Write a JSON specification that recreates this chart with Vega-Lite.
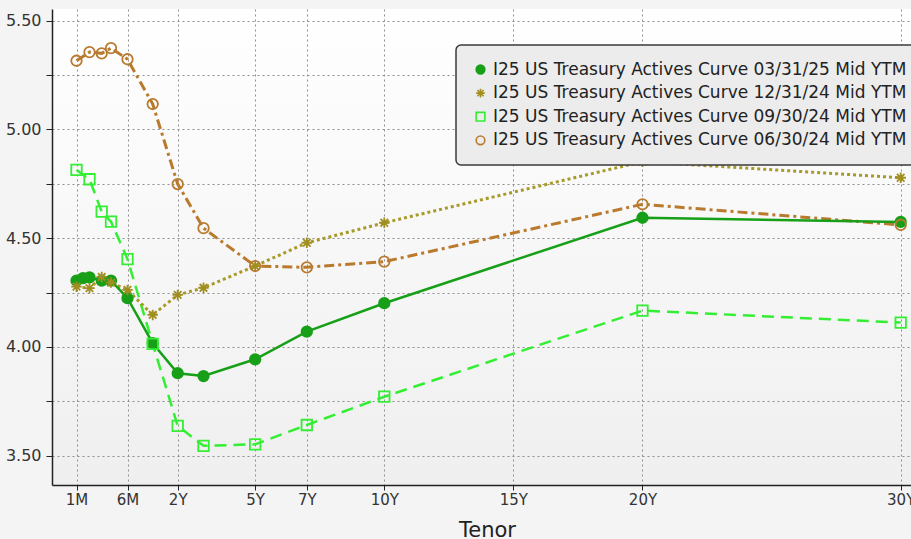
{
  "$schema": "https://vega.github.io/schema/vega-lite/v6.json",
  "autosize": "none",
  "width": 859,
  "height": 476,
  "padding": {"left": 52, "top": 9, "right": 0, "bottom": 54},
  "background": "#f4f4f4",
  "config": {
    "font": "DejaVu Sans",
    "view": {"stroke": null, "fill": {"gradient": "linear", "x1": 0, "y1": 0, "x2": 0, "y2": 1, "stops": [{"offset": 0, "color": "#ffffff"}, {"offset": 1, "color": "#efefef"}]}},
    "axis": {"domainColor": "#222", "domainWidth": 1.5, "tickColor": "#222", "gridColor": "#8f8f8f", "gridDash": [2, 3], "gridWidth": 1, "labelColor": "#333", "titleColor": "#222", "titleFontWeight": "normal"},
    "legend": {"labelLimit": 1000, "orient": "none", "legendX": 404, "legendY": 36, "fillColor": "#ececec", "strokeColor": "#3a3a3a", "strokeWidth": 1.5, "cornerRadius": 5, "padding": 16, "labelFontSize": 17, "labelColor": "#222", "labelOffset": 4, "symbolSize": 75, "symbolStrokeWidth": 1.6, "rowPadding": 5.6, "symbolType": "circle"}
  },
  "data": {"values": [
    {"curve": "I25 US Treasury Actives Curve 03/31/25 Mid YTM", "tenor": 0.08333, "ytm": 4.305},
    {"curve": "I25 US Treasury Actives Curve 03/31/25 Mid YTM", "tenor": 0.125, "ytm": 4.316},
    {"curve": "I25 US Treasury Actives Curve 03/31/25 Mid YTM", "tenor": 0.16667, "ytm": 4.32},
    {"curve": "I25 US Treasury Actives Curve 03/31/25 Mid YTM", "tenor": 0.25, "ytm": 4.305},
    {"curve": "I25 US Treasury Actives Curve 03/31/25 Mid YTM", "tenor": 0.33333, "ytm": 4.305},
    {"curve": "I25 US Treasury Actives Curve 03/31/25 Mid YTM", "tenor": 0.5, "ytm": 4.224},
    {"curve": "I25 US Treasury Actives Curve 03/31/25 Mid YTM", "tenor": 1, "ytm": 4.017},
    {"curve": "I25 US Treasury Actives Curve 03/31/25 Mid YTM", "tenor": 2, "ytm": 3.879},
    {"curve": "I25 US Treasury Actives Curve 03/31/25 Mid YTM", "tenor": 3, "ytm": 3.866},
    {"curve": "I25 US Treasury Actives Curve 03/31/25 Mid YTM", "tenor": 5, "ytm": 3.943},
    {"curve": "I25 US Treasury Actives Curve 03/31/25 Mid YTM", "tenor": 7, "ytm": 4.07},
    {"curve": "I25 US Treasury Actives Curve 03/31/25 Mid YTM", "tenor": 10, "ytm": 4.201},
    {"curve": "I25 US Treasury Actives Curve 03/31/25 Mid YTM", "tenor": 20, "ytm": 4.594},
    {"curve": "I25 US Treasury Actives Curve 03/31/25 Mid YTM", "tenor": 30, "ytm": 4.575},
    {"curve": "I25 US Treasury Actives Curve 12/31/24 Mid YTM", "tenor": 0.08333, "ytm": 4.277},
    {"curve": "I25 US Treasury Actives Curve 12/31/24 Mid YTM", "tenor": 0.16667, "ytm": 4.27},
    {"curve": "I25 US Treasury Actives Curve 12/31/24 Mid YTM", "tenor": 0.25, "ytm": 4.322},
    {"curve": "I25 US Treasury Actives Curve 12/31/24 Mid YTM", "tenor": 0.33333, "ytm": 4.296},
    {"curve": "I25 US Treasury Actives Curve 12/31/24 Mid YTM", "tenor": 0.5, "ytm": 4.262},
    {"curve": "I25 US Treasury Actives Curve 12/31/24 Mid YTM", "tenor": 1, "ytm": 4.147},
    {"curve": "I25 US Treasury Actives Curve 12/31/24 Mid YTM", "tenor": 2, "ytm": 4.239},
    {"curve": "I25 US Treasury Actives Curve 12/31/24 Mid YTM", "tenor": 3, "ytm": 4.272},
    {"curve": "I25 US Treasury Actives Curve 12/31/24 Mid YTM", "tenor": 5, "ytm": 4.372},
    {"curve": "I25 US Treasury Actives Curve 12/31/24 Mid YTM", "tenor": 7, "ytm": 4.479},
    {"curve": "I25 US Treasury Actives Curve 12/31/24 Mid YTM", "tenor": 10, "ytm": 4.571},
    {"curve": "I25 US Treasury Actives Curve 12/31/24 Mid YTM", "tenor": 20, "ytm": 4.852},
    {"curve": "I25 US Treasury Actives Curve 12/31/24 Mid YTM", "tenor": 30, "ytm": 4.778},
    {"curve": "I25 US Treasury Actives Curve 09/30/24 Mid YTM", "tenor": 0.08333, "ytm": 4.814},
    {"curve": "I25 US Treasury Actives Curve 09/30/24 Mid YTM", "tenor": 0.16667, "ytm": 4.771},
    {"curve": "I25 US Treasury Actives Curve 09/30/24 Mid YTM", "tenor": 0.25, "ytm": 4.622},
    {"curve": "I25 US Treasury Actives Curve 09/30/24 Mid YTM", "tenor": 0.33333, "ytm": 4.576},
    {"curve": "I25 US Treasury Actives Curve 09/30/24 Mid YTM", "tenor": 0.5, "ytm": 4.404},
    {"curve": "I25 US Treasury Actives Curve 09/30/24 Mid YTM", "tenor": 1, "ytm": 4.014},
    {"curve": "I25 US Treasury Actives Curve 09/30/24 Mid YTM", "tenor": 2, "ytm": 3.637},
    {"curve": "I25 US Treasury Actives Curve 09/30/24 Mid YTM", "tenor": 3, "ytm": 3.545},
    {"curve": "I25 US Treasury Actives Curve 09/30/24 Mid YTM", "tenor": 5, "ytm": 3.552},
    {"curve": "I25 US Treasury Actives Curve 09/30/24 Mid YTM", "tenor": 7, "ytm": 3.641},
    {"curve": "I25 US Treasury Actives Curve 09/30/24 Mid YTM", "tenor": 10, "ytm": 3.771},
    {"curve": "I25 US Treasury Actives Curve 09/30/24 Mid YTM", "tenor": 20, "ytm": 4.167},
    {"curve": "I25 US Treasury Actives Curve 09/30/24 Mid YTM", "tenor": 30, "ytm": 4.112},
    {"curve": "I25 US Treasury Actives Curve 06/30/24 Mid YTM", "tenor": 0.08333, "ytm": 5.316},
    {"curve": "I25 US Treasury Actives Curve 06/30/24 Mid YTM", "tenor": 0.16667, "ytm": 5.356},
    {"curve": "I25 US Treasury Actives Curve 06/30/24 Mid YTM", "tenor": 0.25, "ytm": 5.35},
    {"curve": "I25 US Treasury Actives Curve 06/30/24 Mid YTM", "tenor": 0.33333, "ytm": 5.374},
    {"curve": "I25 US Treasury Actives Curve 06/30/24 Mid YTM", "tenor": 0.5, "ytm": 5.323},
    {"curve": "I25 US Treasury Actives Curve 06/30/24 Mid YTM", "tenor": 1, "ytm": 5.117},
    {"curve": "I25 US Treasury Actives Curve 06/30/24 Mid YTM", "tenor": 2, "ytm": 4.749},
    {"curve": "I25 US Treasury Actives Curve 06/30/24 Mid YTM", "tenor": 3, "ytm": 4.546},
    {"curve": "I25 US Treasury Actives Curve 06/30/24 Mid YTM", "tenor": 5, "ytm": 4.372},
    {"curve": "I25 US Treasury Actives Curve 06/30/24 Mid YTM", "tenor": 7, "ytm": 4.366},
    {"curve": "I25 US Treasury Actives Curve 06/30/24 Mid YTM", "tenor": 10, "ytm": 4.392},
    {"curve": "I25 US Treasury Actives Curve 06/30/24 Mid YTM", "tenor": 20, "ytm": 4.656},
    {"curve": "I25 US Treasury Actives Curve 06/30/24 Mid YTM", "tenor": 30, "ytm": 4.561}
  ]},
  "encoding": {
    "x": {
      "field": "tenor", "type": "quantitative",
      "scale": {"domain": [0, 0.08333, 0.16667, 0.25, 0.33333, 0.5, 1, 2, 30, 30.4], "range": [0, 24.5, 37.5, 49.7, 59, 75.5, 100.7, 125.7, 848.7, 859], "nice": false, "zero": false},
      "axis": {"title": "Tenor", "values": [0.08333, 0.5, 2, 5, 7, 10, 15, 20, 30], "labelExpr": "datum.value < 0.1 ? '1M' : datum.value < 1 ? '6M' : datum.value + 'Y'", "labelFontSize": 15, "labelPadding": 2, "tickSize": 5, "titleFontSize": 21, "titlePadding": 12, "titleX": 435, "labelFlush": false, "labelOverlap": false}
    },
    "y": {
      "field": "ytm", "type": "quantitative",
      "scale": {"domain": [3.365, 5.554], "nice": false, "zero": false},
      "axis": {"title": null, "values": [3.5, 3.75, 4, 4.25, 4.5, 4.75, 5, 5.25, 5.5], "labelExpr": "(round(datum.value * 100) % 50 == 0) ? format(datum.value, '.2f') : ''", "labelFontSize": 16, "tickSize": 6, "labelPadding": 5, "labelFlush": false, "labelOverlap": false}
    }
  },
  "layer": [
    {"transform": [{"filter": "datum.curve == 'I25 US Treasury Actives Curve 06/30/24 Mid YTM'"}], "mark": {"type": "line", "color": "#b97a2e", "strokeWidth": 3, "strokeDash": [10, 4, 3, 4]}},
    {"transform": [{"filter": "datum.curve == 'I25 US Treasury Actives Curve 09/30/24 Mid YTM'"}], "mark": {"type": "line", "color": "#33ee33", "strokeWidth": 2.5, "strokeDash": [12, 7]}},
    {"transform": [{"filter": "datum.curve == 'I25 US Treasury Actives Curve 12/31/24 Mid YTM'"}], "mark": {"type": "line", "color": "#a89a28", "strokeWidth": 3, "strokeDash": [3, 3]}},
    {"transform": [{"filter": "datum.curve == 'I25 US Treasury Actives Curve 03/31/25 Mid YTM'"}], "mark": {"type": "line", "color": "#189f18", "strokeWidth": 2.5}},
    {
      "mark": {"type": "point", "filled": false, "size": 110, "strokeWidth": 1.8, "opacity": 1},
      "encoding": {
        "color": {"field": "curve", "type": "nominal", "scale": {"domain": ["I25 US Treasury Actives Curve 03/31/25 Mid YTM", "I25 US Treasury Actives Curve 12/31/24 Mid YTM", "I25 US Treasury Actives Curve 09/30/24 Mid YTM", "I25 US Treasury Actives Curve 06/30/24 Mid YTM"], "range": ["#189f18", "#a08f20", "#33ee33", "#b97a2e"]}, "legend": {"title": null}},
        "fill": {"field": "curve", "type": "nominal", "scale": {"domain": ["I25 US Treasury Actives Curve 03/31/25 Mid YTM", "I25 US Treasury Actives Curve 12/31/24 Mid YTM", "I25 US Treasury Actives Curve 09/30/24 Mid YTM", "I25 US Treasury Actives Curve 06/30/24 Mid YTM"], "range": ["#189f18", "transparent", "transparent", "transparent"]}, "legend": {"title": null}},
        "shape": {"field": "curve", "type": "nominal", "scale": {"domain": ["I25 US Treasury Actives Curve 03/31/25 Mid YTM", "I25 US Treasury Actives Curve 12/31/24 Mid YTM", "I25 US Treasury Actives Curve 09/30/24 Mid YTM", "I25 US Treasury Actives Curve 06/30/24 Mid YTM"], "range": ["circle", "M-1,0L1,0M0,-1L0,1M-0.72,-0.72L0.72,0.72M-0.72,0.72L0.72,-0.72", "square", "circle"]}, "legend": {"title": null}}
      }
    }
  ]
}
